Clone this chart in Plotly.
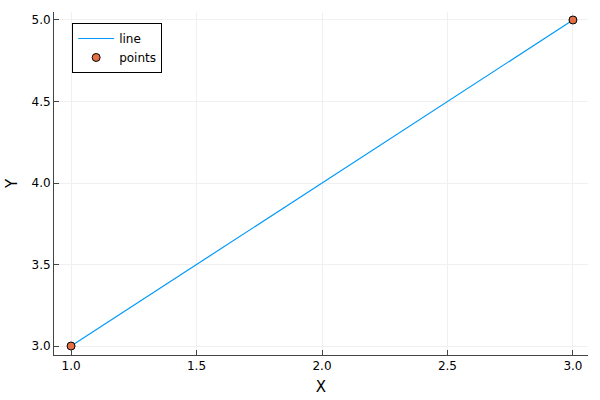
import plotly.graph_objects as go

line_x = [1, 3]
line_y = [3, 5]
pts_x = [1, 3]
pts_y = [3, 5]
xticks = [1.0, 1.5, 2.0, 2.5, 3.0]
yticks = [3.0, 3.5, 4.0, 4.5, 5.0]

fig = go.Figure()
fig.add_trace(go.Scatter(x=line_x, y=line_y, mode="lines", name="line",
                         line=dict(color="#009afa", width=1.2)))
fig.add_trace(go.Scatter(x=pts_x, y=pts_y, mode="markers", name="points",
                         marker=dict(color="#e26f46", size=8,
                                     line=dict(color="black", width=1))))

ax = dict(showline=True, linecolor="#444", linewidth=1, mirror=False,
          showgrid=True, gridcolor="#f0f0f0", gridwidth=1,
          ticks="inside", ticklen=5, tickcolor="#444",
          zeroline=False, tickfont=dict(size=12, color="black"),
          title_font=dict(size=15, color="black"), automargin=False)

fig.update_layout(
    width=600, height=400,
    paper_bgcolor="white", plot_bgcolor="white",
    font=dict(family="DejaVu Sans", color="black"),
    margin=dict(l=54, r=12, t=12, b=45),
    xaxis=dict(ax, range=[0.932, 3.06], tickvals=xticks,
               ticktext=[f"{v:.1f}" for v in xticks], title=dict(text="X", standoff=9)),
    yaxis=dict(ax, range=[2.945, 5.049], tickvals=yticks,
               ticktext=[f"{v:.1f}" for v in yticks], title=dict(text="Y", standoff=10)),
    legend=dict(x=0.034, y=0.968, xanchor="left", yanchor="top",
                bgcolor="white", bordercolor="black", borderwidth=1,
                font=dict(size=12), tracegroupgap=0, itemwidth=36),
    showlegend=True,
)
fig.write_html("out.html", config={"displayModeBar": False},
               post_script="document.body.style.margin='0';")
